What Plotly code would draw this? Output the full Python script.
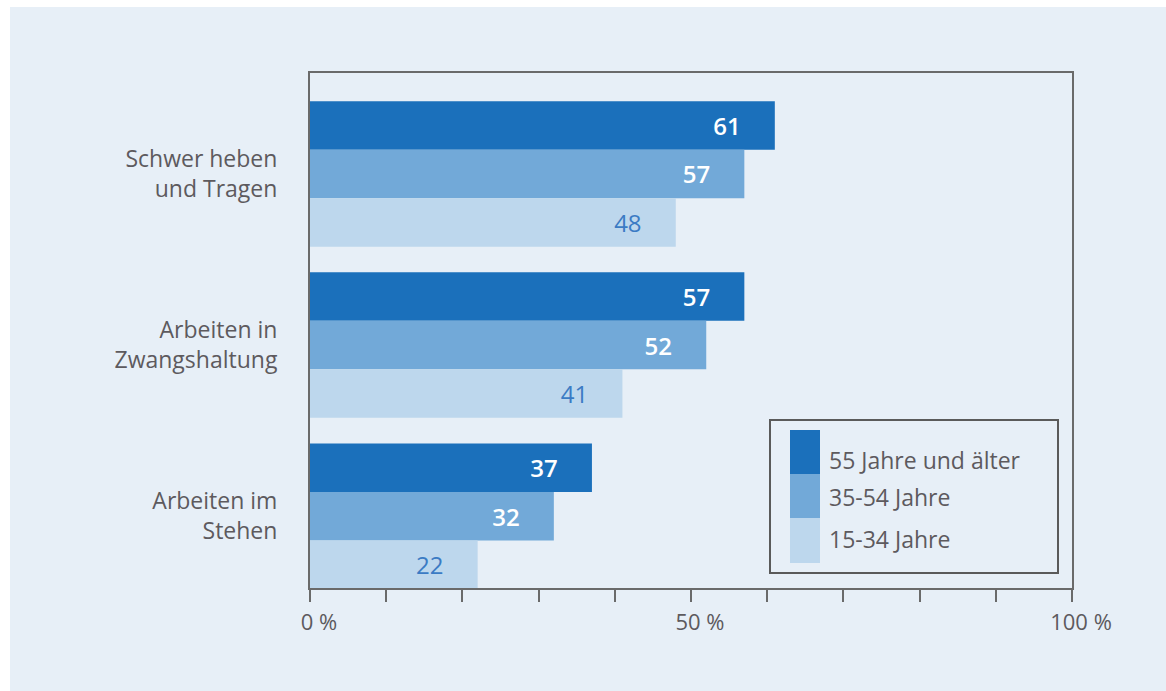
import plotly.graph_objects as go

categories = ["Schwer heben<br>und Tragen", "Arbeiten in<br>Zwangshaltung", "Arbeiten im<br>Stehen"]
series_names = ["55 Jahre und älter", "35-54 Jahre", "15-34 Jahre"]
values_55plus = [61, 57, 37]
values_35_54 = [57, 52, 32]
values_15_34 = [48, 41, 22]
x_tick_vals = [0, 50, 100]
x_tick_text = ["0 %", "50 %", "100 %"]

colors = ["#1b70bb", "#72a9d8", "#bdd7ed"]
label_colors = ["white", "white", "#3b7bc4"]
label_weights = [600, 600, 500]
bg = "#e7eff7"
txt = "#5d5a5e"
FONT = "Open Sans"

fig = go.Figure()
for name, vals, c, lc, lw in zip(series_names, [values_55plus, values_35_54, values_15_34],
                                 colors, label_colors, label_weights):
    fig.add_trace(go.Bar(
        y=categories, x=vals, name=name, orientation="h",
        marker=dict(color=c, line=dict(width=0)),
        texttemplate="%{x}\u00a0\u00a0\u00a0\u00a0\u00a0", textposition="inside",
        insidetextanchor="end", textangle=0, constraintext="none",
        insidetextfont=dict(color=lc, size=24, family=FONT, weight=lw),
        showlegend=False,
    ))

W, H = 1166, 691
L, R, T, B = 310, 94, 73, 103
pw, ph = W - L - R, H - T - B

def px(x):
    return (x - L) / pw

def py(y):
    return (H - B - y) / ph

shapes = [
    dict(type="rect", xref="paper", yref="paper", x0=px(10), x1=px(W + 5), y0=py(7), y1=py(H + 5),
         fillcolor=bg, line=dict(width=0), layer="below"),
    # legend box
    dict(type="rect", xref="paper", yref="paper", x0=px(770), x1=px(1058), y0=py(420), y1=py(573),
         fillcolor="rgba(0,0,0,0)", line=dict(color="#5a5a5a", width=2)),
]
annotations = []
sw_tops = [430, 474, 518]
sw_bottoms = [474, 518, 563]
text_y = [460, 497, 539]
for name, c, y0, y1, ty in zip(series_names, colors, sw_tops, sw_bottoms, text_y):
    shapes.append(dict(type="rect", xref="paper", yref="paper", x0=px(790), x1=px(820),
                       y0=py(y1), y1=py(y0), fillcolor=c, line=dict(width=0)))
    annotations.append(dict(xref="paper", yref="paper", x=px(827), y=py(ty), text=name,
                            showarrow=False, xanchor="left", yanchor="middle",
                            font=dict(family=FONT, size=23, color=txt)))

fig.update_layout(
    width=W, height=H,
    margin=dict(l=L, r=R, t=T, b=B, autoexpand=False),
    paper_bgcolor="white", plot_bgcolor=bg,
    barmode="group", bargap=0.15, bargroupgap=0,
    font=dict(family=FONT, size=22, color=txt),
    shapes=shapes, annotations=annotations,
    xaxis=dict(range=[0, 100], tickvals=x_tick_vals, ticktext=x_tick_text,
               ticks="outside", ticklen=12, tickwidth=2, tickcolor="#6a6a6a",
               minor=dict(dtick=10, tick0=0, ticks="outside", ticklen=12, tickwidth=2, tickcolor="#6a6a6a"),
               showgrid=False, zeroline=False, showline=True, linecolor="#6a6a6a", linewidth=2,
               mirror=True, tickfont=dict(size=22, color=txt), ticklabelshift=9, ticklabelstandoff=2),
    yaxis=dict(categoryorder="array", categoryarray=categories, range=[2.42, -0.59],
               showgrid=False, zeroline=False, showline=True, linecolor="#6a6a6a", linewidth=2,
               mirror=True, ticks="", ticklabelstandoff=26, tickfont=dict(size=23, color=txt)),
)

fig.write_html("out.html")
